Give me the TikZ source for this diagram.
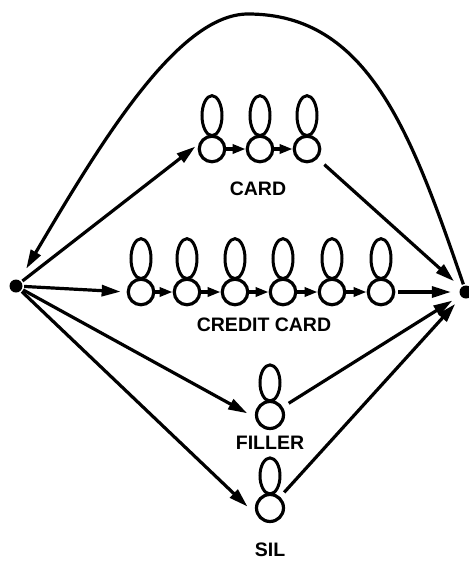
\documentclass[tikz,border=0pt]{standalone}
\usepackage{fontspec}
\setmainfont{Liberation Sans}
\usetikzlibrary{arrows.meta}
\begin{document}
\begin{tikzpicture}[x=1pt,y=-1pt,
  line width=3.2pt,
  state/.style={circle,draw,minimum size=25.5pt,inner sep=0pt},
  dot/.style={circle,fill,minimum size=13pt,inner sep=0pt},
  lbl/.style={font=\bfseries\fontsize{19.5}{19.5}\selectfont,inner sep=0pt},
  arr/.style={-{Triangle[length=19pt,width=11pt]}},
  link/.style={-{Triangle[length=13pt,width=9pt]}},
  loop/.style={line width=3pt},
]
\useasboundingbox (0,0) rectangle (469,563);

% entry and exit points
\node[dot] (L) at (16,286) {};
\node[dot] (R) at (466,292) {};

% CARD model
\node[state] (a1) at (212,149) {};
\node[state] (a2) at (260,149) {};
\node[state] (a3) at (307,149) {};
\node[lbl] (tcard) at (258,188.5) {CARD};

% CREDIT CARD model
\node[state] (b1) at (141,292) {};
\node[state] (b2) at (187,292) {};
\node[state] (b3) at (235,292) {};
\node[state] (b4) at (283,292) {};
\node[state] (b5) at (332,292) {};
\node[state] (b6) at (381,292) {};
\node[lbl] (tcredit) at (264,325) {CREDIT CARD};

% FILLER and SIL models
\node[state,minimum size=27pt] (f1) at (270,415) {};
\node[lbl] (tfiller) at (270,442.5) {FILLER};
\node[state,minimum size=27pt] (s1) at (270,508) {};
\node[lbl] (tsil) at (270,550) {SIL};

% self loops above every state
\foreach \n in {a1,a2,a3,b1,b2,b3,b4,b5,b6}
  \draw[loop] (\n.north) ++(0,-19) ellipse [x radius=10,y radius=20];
\foreach \n in {f1,s1}
  \draw[loop] (\n.north) ++(0,-17) ellipse [x radius=10,y radius=18];

% transitions inside the word models
\draw[link] (a1) -- (a2);
\draw[link] (a2) -- (a3);
\draw[link] (b1) -- (b2);
\draw[link] (b2) -- (b3);
\draw[link] (b3) -- (b4);
\draw[link] (b4) -- (b5);
\draw[link] (b5) -- (b6);

% from the entry point into each model
\draw[arr,shorten >=4pt] (L) -- (a1.160);
\draw[arr,shorten >=6pt] (L) -- (b1.west);
\draw[arr,shorten >=9pt] (L) -- (f1.190);
\draw[arr,shorten >=13pt] (L) -- (s1.210);

% from each model to the exit point
\draw[arr,shorten <=9pt,shorten >=8pt] (a3) -- (R);
\draw[arr,shorten <=3pt,shorten >=7pt] (b6) -- (R);
\draw[arr,shorten <=7pt,shorten >=8pt] (f1) -- (R);
\draw[arr,shorten <=6pt,shorten >=8pt] (s1) -- (R);

% loop back from the exit to the entry point
\coordinate (top) at (248,14);
\draw[arr,shorten >=12pt] (R) .. controls (411,132) and (368,14) .. (top)
  .. controls (178,14) and (101,142) .. (L);
\end{tikzpicture}
\end{document}
